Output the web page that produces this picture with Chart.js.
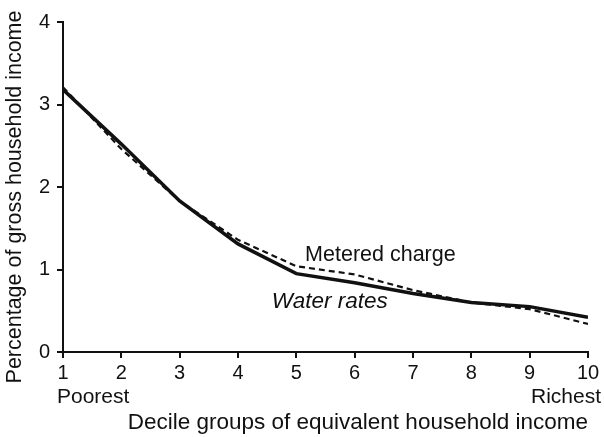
<!DOCTYPE html>
<html lang="en">
<head>
    <meta charset="UTF-8">
    <title>Water charges by decile group</title>
    <script src="https://cdn.jsdelivr.net/npm/chart.js"></script>
    <style>
        html, body {
            margin: 0;
            padding: 0;
            background: #fff;
        }
        .chart-box {
            width: 604px;
            height: 437px;
        }
    </style>
</head>
<body>
    <div class="chart-box">
        <canvas id="myChart" width="604" height="437"></canvas>
    </div>

<script>
// data
const deciles = [1, 2, 3, 4, 5, 6, 7, 8, 9, 10];
const waterRates = [3.18, 2.52, 1.83, 1.31, 0.95, 0.84, 0.71, 0.60, 0.55, 0.42];
const meteredCharge = [3.21, 2.46, 1.83, 1.36, 1.04, 0.94, 0.75, 0.60, 0.52, 0.34];
const yTicks = [0, 1, 2, 3, 4];

const FONT = "'Liberation Sans', Arial, sans-serif";
const INK = '#111';

// text labels placed in data coordinates
const notes = [
    { text: 'Metered charge', x: 5.15, y: 1.18, style: 'normal', size: 21.5 },
    { text: 'Water rates', x: 4.58, y: 0.61, style: 'italic', size: 22.5 }
];

const extraText = {
    id: 'extraText',
    afterDraw(chart) {
        const { ctx, scales: { x, y } } = chart;
        ctx.save();
        ctx.fillStyle = INK;
        ctx.textBaseline = 'middle';
        notes.forEach(n => {
            ctx.font = `${n.style} ${n.size}px ${FONT}`;
            ctx.textAlign = 'left';
            ctx.fillText(n.text, x.getPixelForValue(n.x), y.getPixelForValue(n.y));
        });
        // end labels under the first and last decile
        ctx.font = `21px ${FONT}`;
        const ly = y.bottom + 45;
        ctx.textAlign = 'left';
        ctx.fillText('Poorest', x.getPixelForValue(1) - 6, ly);
        ctx.textAlign = 'right';
        ctx.fillText('Richest', x.getPixelForValue(10) + 13, ly);

        // y axis title, sits a little below the axis centre in the original
        ctx.translate(15, (y.top + y.bottom) / 2 + 10);
        ctx.rotate(-Math.PI / 2);
        ctx.textAlign = 'center';
        ctx.font = `21.5px ${FONT}`;
        ctx.fillText('Percentage of gross household income', 0, 0);
        ctx.restore();
    }
};

const ctx = document.getElementById('myChart').getContext('2d');
new Chart(ctx, {
    type: 'line',
    data: {
        datasets: [
            {
                label: 'Water rates',
                data: deciles.map((d, i) => ({ x: d, y: waterRates[i] })),
                borderColor: INK,
                borderWidth: 3.5,
                pointRadius: 0,
                tension: 0
            },
            {
                label: 'Metered charge',
                data: deciles.map((d, i) => ({ x: d, y: meteredCharge[i] })),
                borderColor: INK,
                borderWidth: 2.2,
                borderDash: [6, 4],
                pointRadius: 0,
                tension: 0
            }
        ]
    },
    options: {
        responsive: false,
        animation: false,
        layout: {
            padding: { left: 0, right: 16, top: 22, bottom: 0 }
        },
        plugins: {
            legend: { display: false },
            tooltip: { enabled: false }
        },
        scales: {
            x: {
                type: 'linear',
                min: 1,
                max: 10,
                afterFit: (s) => { s.height = 85; },
                border: { display: true, color: INK, width: 2 },
                grid: { drawOnChartArea: false, drawTicks: true, tickLength: 6, color: INK, lineWidth: 2 },
                ticks: {
                    stepSize: 1,
                    padding: 3,
                    color: INK,
                    font: { family: FONT, size: 20 }
                },
                title: {
                    display: true,
                    text: 'Decile groups of equivalent household income',
                    align: 'end',
                    color: INK,
                    font: { family: FONT, size: 22.5 },
                    padding: { top: 0, bottom: 1 }
                }
            },
            y: {
                min: 0,
                max: 4,
                afterFit: (s) => { s.width = 63; },
                afterBuildTicks: (s) => { s.ticks = yTicks.map(v => ({ value: v })); },
                border: { display: true, color: INK, width: 2 },
                grid: { drawOnChartArea: false, drawTicks: true, tickLength: 6, color: INK, lineWidth: 2 },
                ticks: {
                    padding: 7,
                    color: INK,
                    font: { family: FONT, size: 20 }
                },
                title: { display: false }
            }
        }
    },
    plugins: [extraText]
});
</script>
</body>
</html>
